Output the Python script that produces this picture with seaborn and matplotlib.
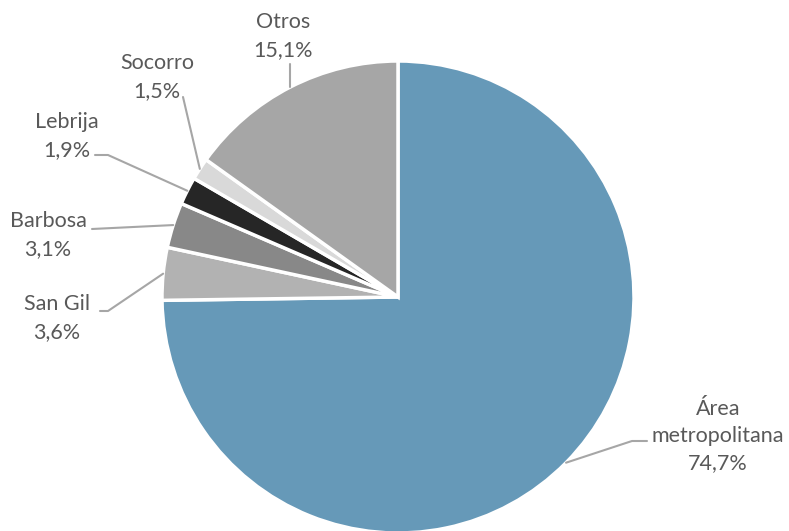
import numpy as np
import pandas as pd
import matplotlib.pyplot as plt
import seaborn as sns

# data
zonas = ['Área\nmetropolitana', 'San Gil', 'Barbosa', 'Lebrija', 'Socorro', 'Otros']
porcentajes = [74.7, 3.6, 3.1, 1.9, 1.5, 15.1]
colores = ['#6699B8', '#B2B2B2', '#888888', '#262626', '#D9D9D9', '#A6A6A6']

# label layout (pixels in the 789x531 figure): text centre, leader start, elbow
texto_pos = [(718, 436), (57, 318), (48, 235), (67, 136), (157, 77), (283, 36)]
linea_ini = [(647, 441), (100, 311), (92, 229), (95, 155), (183, 97), (None, 64)]
linea_codo = [(632, 441), (108, 311), None, (108, 155), None, None]

sns.set_theme(style='white')
plt.rcParams['font.family'] = ['Lato', 'DejaVu Sans']

W, H = 789, 531
cx, cy, R = 398, 297, 236
fig = plt.figure(figsize=(W / 100, H / 100), dpi=100)
ax = fig.add_axes([(cx - R) / W, (H - cy - R) / H, 2 * R / W, 2 * R / H])

df = pd.DataFrame({'zona': zonas, 'pct': porcentajes})
wedges, _ = ax.pie(df['pct'], colors=colores, startangle=90, counterclock=False,
                   radius=1, wedgeprops=dict(edgecolor='white', linewidth=2.5))
ax.set_xlim(-1, 1)
ax.set_ylim(-1, 1)
ax.set_aspect('equal')
ax.axis('off')


def px2data(px, py):
    return (px - cx) / R, (cy - py) / R


for w, zona, pct, tp, li, lc in zip(wedges, df['zona'], df['pct'], texto_pos, linea_ini, linea_codo):
    ang = np.deg2rad((w.theta1 + w.theta2) / 2)
    ex, ey = np.cos(ang), np.sin(ang)
    sx = li[0] if li[0] is not None else cx + ex * R
    pts = [px2data(sx, li[1])]
    if lc is not None:
        pts.append(px2data(*lc))
    pts.append((ex, ey))
    xs, ys = zip(*pts)
    ax.plot(xs, ys, color='#A6A6A6', lw=1.5, clip_on=False)
    etiqueta = f"{zona}\n{pct:.1f}%".replace('.', ',')
    fig.text(tp[0] / W, 1 - tp[1] / H, etiqueta, ha='center', va='center',
             fontsize=15.5, color='#595959', linespacing=1.45)

fig.savefig('out.png', dpi=100)
